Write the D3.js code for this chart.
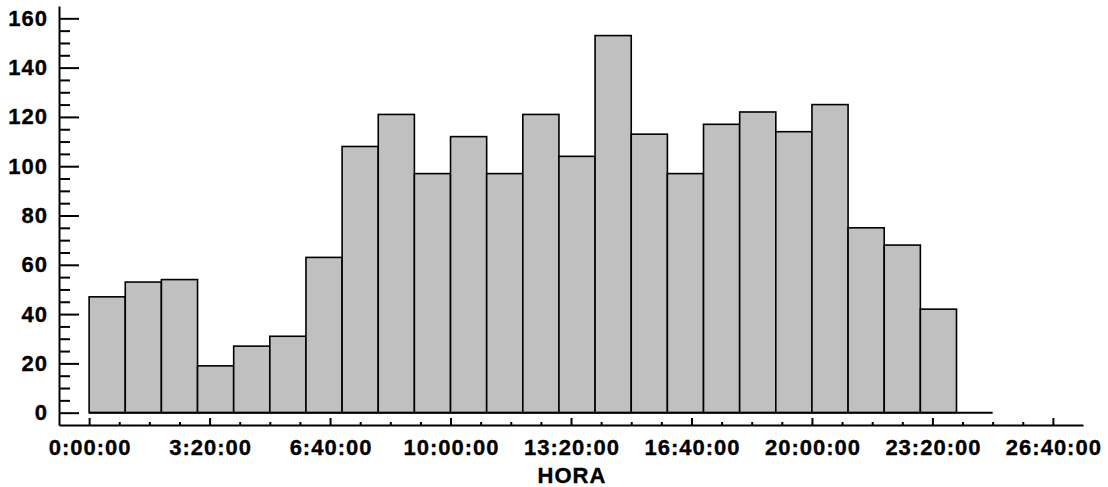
<!DOCTYPE html>
<html>
<head>
<meta charset="utf-8">
<script src="https://cdn.jsdelivr.net/npm/d3@7"></script>
<style>
  html, body { margin: 0; padding: 0; background: #fff; }
  svg text { font-family: "Liberation Sans", Arial, sans-serif; font-weight: bold; font-size: 22px; fill: #000; stroke: #000; stroke-width: 0.35px; letter-spacing: 1px; }
</style>
</head>
<body>
<svg id="chart" width="1108" height="487"></svg>
<script>
// Bin start (minutes since 0:00:00), one-hour bins
const binStarts = [0,60,120,180,240,300,360,420,480,540,600,660,720,780,840,900,960,1020,1080,1140,1200,1260,1320,1380];
const binWidth = 60;
const counts = [47,53,54,19,27,31,63,108,121,97,112,97,121,104,153,113,97,117,122,114,125,75,68,42];
const xMajorTicks = [0,200,400,600,800,1000,1200,1400,1600];
const xMinorTicks = [50,100,150,250,300,350,450,500,550,650,700,750,850,900,950,1050,1100,1150,1250,1300,1350,1450,1500,1550];
const yMajorTicks = [0,20,40,60,80,100,120,140,160];
const yMinorTicks = [5,10,15,25,30,35,45,50,55,65,70,75,85,90,95,105,110,115,125,130,135,145,150,155];
const baselineEnd = 1500; // histogram frame baseline extends to 25:00:00
const xTitle = "HORA";

const svg = d3.select("#chart");
const x = d3.scaleLinear().domain([-50, 1650]).range([59, 1083]);
const y = d3.scaleLinear().domain([-5, 165]).range([425, 6]);

const fmt = m => {
  const h = Math.floor(m / 60), mm = m % 60;
  return h + ":" + String(mm).padStart(2, "0") + ":00";
};

// bars
svg.append("g").selectAll("rect").data(counts).join("rect")
  .attr("x", (d, i) => x(binStarts[i]))
  .attr("y", d => y(d))
  .attr("width", (d, i) => x(binStarts[i] + binWidth) - x(binStarts[i]))
  .attr("height", d => y(0) - y(d))
  .attr("fill", "#c0c0c0")
  .attr("stroke", "#000")
  .attr("stroke-width", 1.6);

// baseline
svg.append("line")
  .attr("x1", x(0)).attr("x2", x(baselineEnd))
  .attr("y1", y(0)).attr("y2", y(0))
  .attr("stroke", "#000").attr("stroke-width", 2);

// x axis
const xAxisG = svg.append("g").attr("transform", `translate(0,${y(-5)})`);
xAxisG.call(d3.axisBottom(x).tickValues(xMajorTicks).tickFormat(fmt).tickSize(-7).tickSizeOuter(0).tickPadding(14));
xAxisG.append("g").call(d3.axisBottom(x).tickValues(xMinorTicks).tickFormat("").tickSize(-3).tickSizeOuter(0))
  .select(".domain").remove();
xAxisG.selectAll(".domain").attr("stroke-width", 2).attr("stroke", "#000");
xAxisG.selectAll(".tick line").attr("stroke-width", 2).attr("stroke", "#000");
xAxisG.selectAll("text").attr("font-size", null).attr("font-family", null).attr("fill", "#000").attr("dx", "0.5px");

// y axis
const yAxisG = svg.append("g").attr("transform", `translate(${x(-50)},0)`);
yAxisG.call(d3.axisLeft(y).tickValues(yMajorTicks).tickFormat(d3.format("d")).tickSize(-20).tickSizeOuter(0).tickPadding(11));
yAxisG.append("g").call(d3.axisLeft(y).tickValues(yMinorTicks).tickFormat("").tickSize(-11).tickSizeOuter(0))
  .select(".domain").remove();
yAxisG.selectAll(".domain").attr("stroke-width", 2).attr("stroke", "#000");
yAxisG.selectAll(".tick line").attr("stroke-width", 2).attr("stroke", "#000");
yAxisG.selectAll("text").attr("font-size", null).attr("font-family", null).attr("fill", "#000");

// x title
svg.append("text")
  .attr("x", (x(-50) + x(1650)) / 2 + 1)
  .attr("y", 483)
  .attr("text-anchor", "middle")
  .text(xTitle);
</script>
</body>
</html>
